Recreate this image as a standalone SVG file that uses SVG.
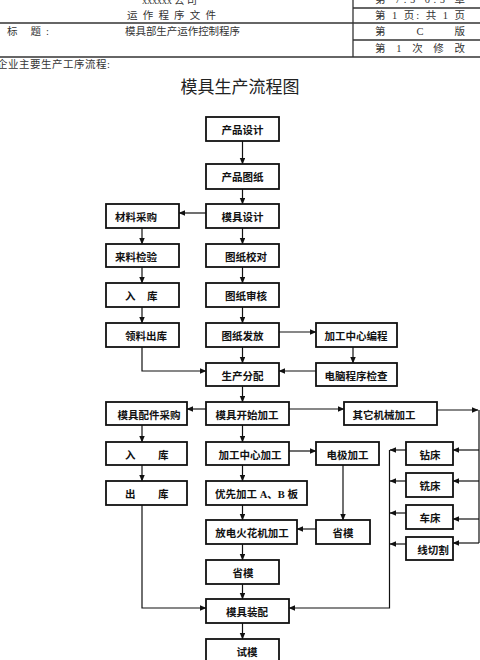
<svg xmlns="http://www.w3.org/2000/svg" width="480" height="660" viewBox="0 0 480 660">
<defs>
<marker id="ah" markerWidth="7" markerHeight="6" refX="6" refY="2.75" orient="auto" markerUnits="userSpaceOnUse">
<path d="M0,0 L6.5,2.75 L0,5.5 z" fill="#111"/>
</marker>
<style>
.hd{font-family:"Liberation Serif","Noto Sans CJK SC",serif;font-size:10.5px;fill:#333}
.ttl{font-family:"Liberation Serif","Noto Sans CJK SC",serif;font-size:17px;fill:#222}
.hl{stroke:#333;stroke-width:1.3;fill:none}
.box{fill:#fff;stroke:#111;stroke-width:1.8}
.t{font-family:"Liberation Serif","Noto Sans CJK SC",serif;font-size:10.5px;font-weight:bold;fill:#111}
.c{text-anchor:middle}
.ln{stroke:#111;stroke-width:1.2;fill:none}
.ar{stroke:#111;stroke-width:1.2;fill:none;marker-end:url(#ah)}
</style>
</defs>
<rect width="480" height="660" fill="#fff"/>
<g id="header">
<line class="hl" x1="353" y1="0" x2="353" y2="57"/>
<line class="hl" x1="353" y1="8" x2="480" y2="8"/>
<line class="hl" x1="0" y1="23" x2="480" y2="23"/>
<line class="hl" x1="353" y1="40" x2="480" y2="40"/>
<line class="hl" x1="0" y1="57" x2="480" y2="57"/>
<text class="hd" x="142" y="4" textLength="55" lengthAdjust="spacing">xxxxxx 公 司</text>
<text class="hd" x="127" y="19" textLength="89" lengthAdjust="spacing">运 作 程 序 文 件</text>
<text class="hd" x="375" y="3" textLength="90" lengthAdjust="spacing">第 7.5 0.5 章</text>
<text class="hd" x="375" y="19" textLength="90" lengthAdjust="spacing">第 1 页: 共 1 页</text>
<text class="hd" x="7" y="35" textLength="42" lengthAdjust="spacing">标    题:</text>
<text class="hd" x="125" y="35" textLength="115" lengthAdjust="spacing">模具部生产运作控制程序</text>
<text class="hd" x="375" y="35" textLength="90" lengthAdjust="spacing">第       C       版</text>
<text class="hd" x="375" y="52" textLength="90" lengthAdjust="spacing">第 1 次 修 改</text>
<text class="hd" x="-3" y="68" textLength="113" lengthAdjust="spacing">企业主要生产工序流程:</text>
<text class="ttl" x="240" y="93" text-anchor="middle">模具生产流程图</text>
</g>
<g id="connectors">
<path class="ar" d="M242.5,141 V164"/>
<path class="ar" d="M242.5,189 V204"/>
<path class="ar" d="M206,213 H179"/>
<path class="ar" d="M142,228 V244"/>
<path class="ar" d="M142,267 V283"/>
<path class="ar" d="M142,307 V323"/>
<path class="ar" d="M242.5,228 V244"/>
<path class="ar" d="M242.5,267 V283"/>
<path class="ar" d="M242.5,307 V323"/>
<path class="ar" d="M242.5,347 V363"/>
<path class="ar" d="M279,332 H316"/>
<path class="ar" d="M353,347 V363"/>
<path class="ar" d="M316,371 H279"/>
<path class="ar" d="M142,347 V371 H206"/>
<path class="ar" d="M242.5,386 V402"/>
<path class="ar" d="M206,409 H187"/>
<path class="ar" d="M289,409 H344"/>
<path class="ar" d="M437,410 H478"/>
<path class="ln" d="M479,410 V543"/>
<path class="ar" d="M479,450 H453"/>
<path class="ar" d="M479,481 H453"/>
<path class="ar" d="M479,519 H453"/>
<path class="ar" d="M479,543 H453"/>
<path class="ar" d="M406,450 H390"/>
<path class="ar" d="M406,481 H390"/>
<path class="ar" d="M406,513 H390"/>
<path class="ar" d="M406,544 H390"/>
<path class="ar" d="M389.5,450 V608 H289"/>
<path class="ar" d="M142,425 V442"/>
<path class="ar" d="M142,465 V481"/>
<path class="ar" d="M142,505 V608 H206"/>
<path class="ar" d="M242.5,425 V442"/>
<path class="ar" d="M289,451 H316"/>
<path class="ar" d="M343,465 V520"/>
<path class="ar" d="M316,529 H297"/>
<path class="ar" d="M242.5,465 V481"/>
<path class="ar" d="M242.5,505 V520"/>
<path class="ar" d="M242.5,544 V560"/>
<path class="ar" d="M242.5,584 V599"/>
<path class="ar" d="M242.5,623 V639"/>
</g>
<g id="n_chanpinsheji"><rect class="box" x="206" y="117" width="73" height="24"/><text class="t c" x="242.5" y="134">产品设计</text></g>
<g id="n_chanpintuzhi"><rect class="box" x="206" y="164" width="73" height="25"/><text class="t c" x="242.5" y="181">产品图纸</text></g>
<g id="n_mujusheji"><rect class="box" x="206" y="204" width="73" height="24"/><text class="t c" x="242.5" y="221">模具设计</text></g>
<g id="n_cailiaocaigou"><rect class="box" x="106" y="204" width="73" height="24"/><text class="t c" x="136" y="221">材料采购</text></g>
<g id="n_lailiaojianyan"><rect class="box" x="106" y="244" width="73" height="23"/><text class="t c" x="136" y="260.5">来料检验</text></g>
<g id="n_tuzhijiaodui"><rect class="box" x="206" y="244" width="73" height="23"/><text class="t c" x="246" y="260.5">图纸校对</text></g>
<g id="n_ruku1"><rect class="box" x="106" y="283" width="73" height="24"/><text class="t" x="125 147" y="300">入库</text></g>
<g id="n_tuzhishenhe"><rect class="box" x="206" y="283" width="73" height="24"/><text class="t c" x="246" y="300">图纸审核</text></g>
<g id="n_lingliaochuku"><rect class="box" x="106" y="323" width="73" height="24"/><text class="t c" x="146" y="340">领料出库</text></g>
<g id="n_tuzhifafang"><rect class="box" x="206" y="323" width="73" height="24"/><text class="t c" x="242.5" y="340">图纸发放</text></g>
<g id="n_jiagongbiancheng"><rect class="box" x="316" y="323" width="81" height="24"/><text class="t c" x="356" y="340">加工中心编程</text></g>
<g id="n_shengchanfenpei"><rect class="box" x="206" y="363" width="73" height="23"/><text class="t c" x="242.5" y="379.5">生产分配</text></g>
<g id="n_diannaojiancha"><rect class="box" x="316" y="363" width="81" height="23"/><text class="t c" x="356" y="379.5">电脑程序检查</text></g>
<g id="n_peijiancaigou"><rect class="box" x="106" y="402" width="81" height="23"/><text class="t c" x="149" y="418.5">模具配件采购</text></g>
<g id="n_kaishijiagong"><rect class="box" x="206" y="402" width="83" height="23"/><text class="t c" x="247" y="418.5">模具开始加工</text></g>
<g id="n_qitajiagong"><rect class="box" x="344" y="402" width="93" height="23"/><text class="t c" x="384" y="418.5">其它机械加工</text></g>
<g id="n_ruku2"><rect class="box" x="106" y="442" width="81" height="23"/><text class="t" x="125 158" y="458.5">入库</text></g>
<g id="n_zhongxinjiagong"><rect class="box" x="206" y="442" width="83" height="23"/><text class="t c" x="250" y="458.5">加工中心加工</text></g>
<g id="n_dianjijiagong"><rect class="box" x="316" y="442" width="63" height="23"/><text class="t c" x="347.5" y="458.5">电极加工</text></g>
<g id="n_zuanchuang"><rect class="box" x="406" y="442" width="47" height="23"/><text class="t c" x="430" y="458.5">钻床</text></g>
<g id="n_xichuang"><rect class="box" x="406" y="473" width="47" height="24"/><text class="t c" x="430" y="490">铣床</text></g>
<g id="n_chechuang"><rect class="box" x="406" y="505" width="47" height="24"/><text class="t c" x="430" y="522">车床</text></g>
<g id="n_xianqiege"><rect class="box" x="406" y="537" width="47" height="23"/><text class="t c" x="433" y="553.5">线切割</text></g>
<g id="n_chuku"><rect class="box" x="106" y="481" width="81" height="24"/><text class="t" x="125 158" y="498">出库</text></g>
<g id="n_youxianjiagong"><rect class="box" x="206" y="481" width="101" height="24"/><text class="t c" x="256.5" y="498">优先加工 A、B 板</text></g>
<g id="n_fangdianjiagong"><rect class="box" x="206" y="520" width="91" height="24"/><text class="t c" x="252" y="537">放电火花机加工</text></g>
<g id="n_shengmo1"><rect class="box" x="316" y="520" width="54" height="24"/><text class="t c" x="343" y="537">省模</text></g>
<g id="n_shengmo2"><rect class="box" x="206" y="560" width="73" height="24"/><text class="t c" x="243" y="577">省模</text></g>
<g id="n_mujuzhuangpei"><rect class="box" x="206" y="599" width="83" height="24"/><text class="t c" x="247" y="616">模具装配</text></g>
<g id="n_shimo"><rect class="box" x="206" y="639" width="73" height="25"/><text class="t c" x="247" y="656">试模</text></g>
</svg>
